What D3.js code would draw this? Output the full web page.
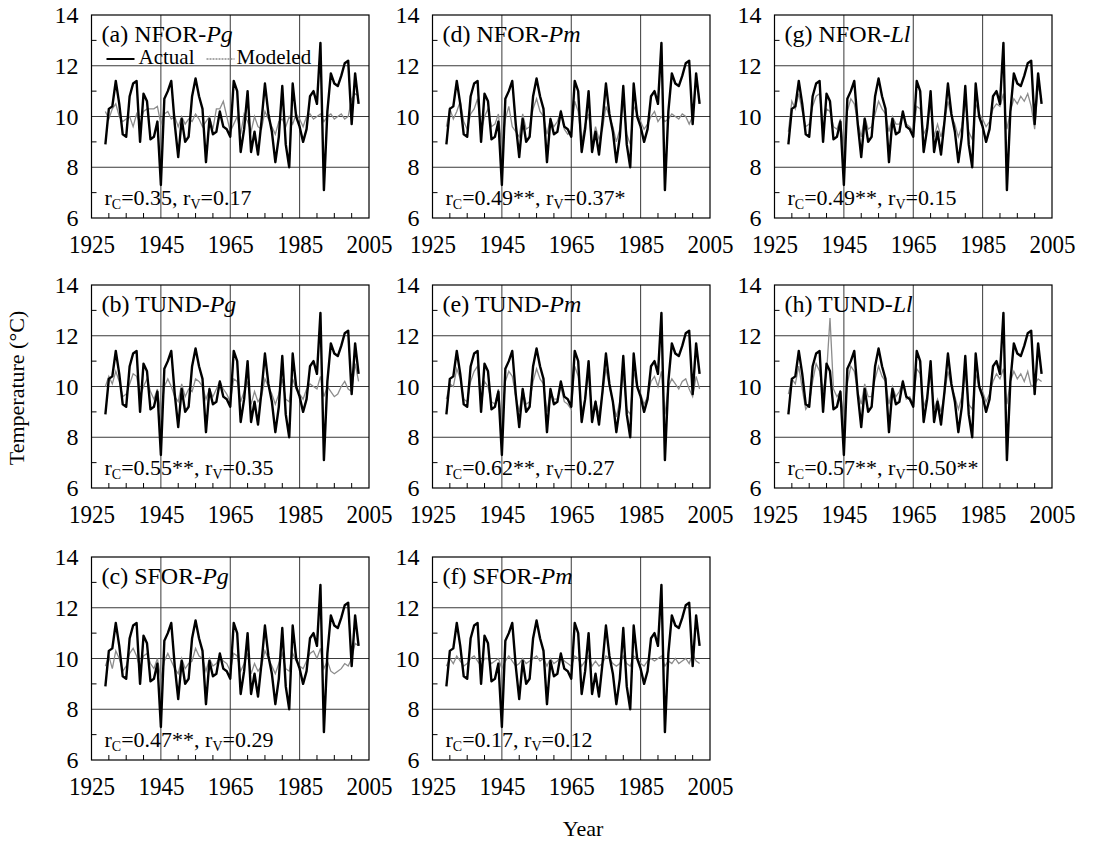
<!DOCTYPE html>
<html lang="en">
<head>
  <meta charset="UTF-8">
  <title>Actual vs modeled temperature</title>
  <script src="https://d3js.org/d3.v7.min.js"></script>
  <style>
    body { margin: 0; background: #fff; }
    svg text { font-family: "Liberation Serif", "Times New Roman", serif; fill: #000; }
  </style>
</head>
<body>
<svg id="chart" width="1095" height="851"></svg>
<script>
  const serif = '"Liberation Serif", "Times New Roman", serif';

  // Years covered by the series
  const years = d3.range(1929, 2003);

  // Observed temperature (same in every panel)
  const actual = [8.9, 10.3, 10.4, 11.4, 10.5, 9.3, 9.2, 10.8, 11.3, 11.4,
    9.0, 10.9, 10.6, 9.1, 9.2, 9.8, 7.3, 10.7, 11.0, 11.4,
    9.7, 8.4, 9.9, 9.0, 9.2, 10.8, 11.5, 10.8, 10.3, 8.2,
    9.9, 9.3, 9.4, 10.2, 9.6, 9.5, 9.2, 11.4, 11.0, 8.6,
    9.5, 11.0, 8.6, 9.4, 8.5, 9.8, 11.3, 10.1, 9.4, 8.2,
    9.2, 11.2, 8.9, 8.0, 11.3, 10.0, 9.6, 9.0, 9.5, 10.8,
    11.0, 10.5, 12.9, 7.1, 10.2, 11.7, 11.3, 11.2, 11.6, 12.1,
    12.2, 9.7, 11.7, 10.5];

  // Modeled temperature, one array per panel
  const modeledNforPg = [10.2, 9.9, 10.3, 10.5, 10.0, 9.8, 9.9, 10.0, 9.6, 10.1,
    9.7, 10.2, 10.3, 10.3, 10.3, 10.4, 9.7, 10.1, 10.2, 9.9,
    10.0, 9.6, 10.0, 9.7, 9.9, 9.8, 10.1, 9.9, 9.6, 9.8,
    10.0, 9.5, 10.3, 10.3, 10.6, 10.0, 9.4, 9.7, 10.0, 9.3,
    10.1, 9.8, 9.4, 10.0, 9.6, 9.5, 10.2, 9.9, 9.6, 9.3,
    9.8, 9.9, 9.6, 10.0, 9.7, 10.1, 9.9, 9.6, 10.0, 10.1,
    9.9, 10.0, 10.1, 9.8, 10.0, 10.1, 9.9, 10.0, 10.1, 9.9,
    10.0, 10.7, 10.9, 10.8];
  const modeledTundPg = [10.0, 10.4, 10.1, 10.6, 10.2, 9.6, 9.7, 10.1, 10.5, 10.4,
    9.6, 10.0, 10.3, 9.8, 9.5, 9.9, 8.9, 10.0, 10.3, 10.0,
    9.6, 9.4, 10.1, 9.6, 9.9, 9.8, 10.3, 10.2, 10.0, 9.5,
    9.9, 9.6, 9.9, 10.2, 9.9, 9.7, 9.4, 10.3, 10.2, 9.4,
    9.8, 10.2, 9.3, 9.8, 9.4, 9.6, 10.3, 10.0, 9.7, 9.3,
    9.7, 10.3, 9.5, 9.4, 10.3, 9.9, 9.7, 9.5, 9.9, 10.1,
    10.0, 9.9, 10.4, 9.6, 10.0, 9.8, 9.6, 9.7, 10.0, 10.2,
    9.9, 9.8, 10.9, 10.2];
  const modeledSforPg = [9.7, 10.1, 9.6, 10.3, 10.0, 9.5, 9.7, 10.2, 10.4, 10.1,
    9.6, 10.1, 10.2, 9.8, 9.6, 10.0, 9.2, 9.9, 10.2, 9.9,
    9.6, 9.4, 10.0, 9.6, 9.8, 9.9, 10.4, 10.1, 10.0, 9.5,
    10.0, 9.7, 9.8, 10.1, 9.9, 9.8, 9.5, 10.2, 10.1, 9.5,
    9.8, 10.2, 9.4, 9.8, 9.5, 9.7, 10.3, 10.0, 9.7, 9.4,
    9.8, 10.2, 9.6, 9.5, 10.2, 9.9, 9.7, 9.6, 9.9, 10.2,
    10.3, 10.0, 10.4, 9.6, 9.9, 9.5, 9.4, 9.5, 9.6, 9.8,
    9.7, 10.0, 10.6, 10.5];
  const modeledNforPm = [9.6, 10.3, 9.9, 10.2, 10.6, 9.8, 9.5, 10.1, 10.3, 10.7,
    9.4, 10.0, 10.3, 9.6, 9.7, 10.1, 8.7, 9.9, 10.4, 9.6,
    9.4, 9.2, 10.1, 9.5, 9.6, 10.3, 10.7, 10.2, 10.0, 9.3,
    9.9, 9.6, 9.8, 10.2, 9.5, 9.3, 9.4, 10.6, 10.2, 9.0,
    9.7, 10.1, 8.9, 9.6, 9.1, 9.5, 10.4, 10.0, 9.6, 9.0,
    9.5, 10.6, 9.3, 8.9, 10.4, 10.1, 9.8, 9.5, 9.7, 10.0,
    10.2, 9.8, 10.0, 9.8, 9.9, 10.1, 10.0, 9.9, 10.1, 10.0,
    9.7, 10.0, 11.6, 10.6];
  const modeledTundPm = [9.5, 10.1, 10.0, 10.7, 10.3, 9.5, 9.4, 10.2, 10.6, 10.8,
    9.2, 10.2, 10.0, 9.4, 9.3, 9.9, 8.4, 10.2, 10.6, 10.4,
    9.6, 9.0, 9.9, 9.3, 9.4, 10.2, 10.7, 10.3, 10.1, 9.0,
    9.8, 9.5, 9.5, 10.0, 9.4, 9.3, 9.1, 10.8, 10.4, 9.0,
    9.5, 10.5, 8.9, 9.4, 8.9, 9.7, 10.7, 10.0, 9.4, 8.8,
    9.4, 10.5, 9.1, 8.9, 10.6, 10.0, 9.7, 9.3, 9.6, 10.2,
    10.4, 10.0, 10.6, 8.9, 10.0, 10.3, 10.1, 9.9, 10.2, 10.3,
    9.9, 9.6, 10.4, 9.9];
  const modeledSforPm = [9.7, 10.0, 9.8, 10.1, 9.9, 9.7, 9.8, 10.0, 10.1, 9.9,
    9.7, 10.0, 10.0, 9.8, 9.9, 10.0, 9.6, 9.9, 10.1, 9.9,
    9.7, 9.8, 10.0, 9.8, 9.9, 10.0, 10.1, 9.9, 10.0, 9.7,
    10.0, 9.8, 9.9, 10.1, 9.9, 9.8, 9.7, 10.1, 10.0, 9.7,
    9.9, 10.1, 9.7, 9.9, 9.7, 9.8, 10.1, 10.0, 9.8, 9.7,
    9.8, 10.1, 9.8, 9.7, 10.1, 10.0, 9.8, 9.7, 9.9, 10.0,
    9.9, 10.0, 10.1, 9.7, 9.9, 9.8, 10.0, 9.8, 9.9, 10.0,
    9.8, 10.2, 9.9, 9.8];
  const modeledNforLl = [9.4, 10.6, 10.3, 10.9, 10.2, 9.6, 9.7, 10.4, 10.8, 10.9,
    9.5, 10.3, 10.2, 9.6, 9.5, 9.9, 8.6, 10.2, 10.7, 10.5,
    9.8, 9.2, 10.0, 9.5, 9.6, 10.1, 10.6, 10.3, 10.1, 9.4,
    10.0, 9.7, 9.7, 10.1, 9.7, 9.6, 9.4, 10.4, 10.3, 9.3,
    9.6, 10.5, 9.2, 9.7, 9.2, 9.8, 10.6, 10.0, 9.7, 9.2,
    9.6, 10.6, 9.4, 9.1, 10.5, 10.1, 9.9, 9.6, 9.8, 10.3,
    10.5, 10.4, 10.9, 9.5, 10.2, 10.7, 10.5, 10.8, 10.6, 10.9,
    10.4, 9.5, 11.2, 10.7];
  const modeledTundLl = [9.7, 10.3, 10.1, 10.8, 9.9, 9.1, 9.3, 10.2, 10.9, 10.6,
    9.8, 10.5, 12.7, 9.9, 9.6, 9.8, 8.7, 10.1, 10.8, 10.6,
    9.8, 9.3, 10.1, 9.6, 9.6, 10.3, 10.8, 10.4, 10.2, 9.3,
    10.0, 9.6, 9.8, 10.2, 9.5, 9.6, 9.3, 10.7, 10.5, 9.2,
    9.6, 10.5, 9.1, 9.5, 9.0, 9.7, 10.6, 10.0, 9.6, 9.1,
    9.6, 10.5, 9.3, 9.1, 10.5, 10.0, 9.8, 9.4, 9.7, 10.2,
    10.5, 10.3, 10.7, 9.3, 10.2, 10.6, 10.3, 10.5, 10.2, 10.6,
    10.0, 10.1, 10.3, 10.2];

  // Panel labels and correlation statistics
  const panelLetters = ["a", "b", "c", "d", "e", "f", "g", "h"];
  const panelSites = ["NFOR", "TUND", "SFOR", "NFOR", "TUND", "SFOR", "NFOR", "TUND"];
  const panelSpecies = ["Pg", "Pg", "Pg", "Pm", "Pm", "Pm", "Ll", "Ll"];
  const rcLabels = ["0.35", "0.55**", "0.47**", "0.49**", "0.62**", "0.17", "0.49**", "0.57**"];
  const rvLabels = ["0.17", "0.35", "0.29", "0.37*", "0.27", "0.12", "0.15", "0.50**"];
  const modeledSeries = [modeledNforPg, modeledTundPg, modeledSforPg, modeledNforPm,
    modeledTundPm, modeledSforPm, modeledNforLl, modeledTundLl];

  const xTicks = [1925, 1945, 1965, 1985, 2005];
  const yTicks = [6, 8, 10, 12, 14];

  // Layout
  const colLeft = [91.5, 432.5, 774.5];
  const rowTop = [15, 285, 557];
  const pw = 277.5, ph = 203;

  const svg = d3.select("#chart");

  const x = d3.scaleLinear().domain([1925, 2005]).range([0, pw]);
  const y = d3.scaleLinear().domain([6, 14]).range([ph, 0]);

  const line = d3.line()
    .x(d => x(d[0]))
    .y(d => y(d[1]));

  panelLetters.forEach((letter, i) => {
    const col = Math.floor(i / 3);
    const row = i % 3;
    const g = svg.append("g")
      .attr("transform", `translate(${colLeft[col]},${rowTop[row]})`);

    // grid lines
    g.selectAll(".vgrid")
      .data([1945, 1965, 1985])
      .join("line")
      .attr("x1", d => x(d)).attr("x2", d => x(d))
      .attr("y1", 0).attr("y2", ph)
      .attr("stroke", "#3a3a3a").attr("stroke-width", 1);
    g.selectAll(".hgrid")
      .data([8, 10, 12])
      .join("line")
      .attr("x1", 0).attr("x2", pw)
      .attr("y1", d => y(d)).attr("y2", d => y(d))
      .attr("stroke", "#3a3a3a").attr("stroke-width", 1);

    // minor ticks, pointing inward
    g.selectAll(".xminor")
      .data(d3.range(1930, 2005, 5).filter(v => v % 20 !== 5))
      .join("line")
      .attr("x1", d => x(d)).attr("x2", d => x(d))
      .attr("y1", ph).attr("y2", ph - 5)
      .attr("stroke", "#000").attr("stroke-width", 1);
    g.selectAll(".yminor")
      .data([7, 9, 11, 13])
      .join("line")
      .attr("x1", 0).attr("x2", 5)
      .attr("y1", d => y(d)).attr("y2", d => y(d))
      .attr("stroke", "#000").attr("stroke-width", 1);

    // series
    const modeled = modeledSeries[i];
    g.append("path")
      .datum(years.map((yr, k) => [yr, modeled[k]]))
      .attr("d", line)
      .attr("fill", "none")
      .attr("stroke", "#8c8c8c")
      .attr("stroke-width", 1.3);
    g.append("path")
      .datum(years.map((yr, k) => [yr, actual[k]]))
      .attr("d", line)
      .attr("fill", "none")
      .attr("stroke", "#000")
      .attr("stroke-width", 2.4)
      .attr("stroke-linejoin", "round");

    // frame
    g.append("rect")
      .attr("width", pw).attr("height", ph)
      .attr("fill", "none").attr("stroke", "#000").attr("stroke-width", 1.2);

    // axes
    const xAxis = g.append("g")
      .attr("transform", `translate(0,${ph})`)
      .call(d3.axisBottom(x).tickValues(xTicks).tickFormat(d3.format("d")).tickSize(0).tickPadding(17));
    xAxis.attr("font-family", null).attr("font-size", null);
    xAxis.select(".domain").remove();
    xAxis.selectAll("text")
      .style("font-family", serif)
      .style("font-size", "25px")
      .attr("textLength", 46)
      .attr("lengthAdjust", "spacingAndGlyphs");

    const yAxis = g.append("g")
      .call(d3.axisLeft(y).tickValues(yTicks).tickSize(0).tickPadding(13));
    yAxis.attr("font-family", null).attr("font-size", null);
    yAxis.select(".domain").remove();
    yAxis.selectAll("text")
      .style("font-family", serif)
      .style("font-size", "24px");

    // panel title
    const title = g.append("text")
      .attr("x", 10).attr("y", 27)
      .style("font-family", serif)
      .style("font-size", "24px");
    title.append("tspan").text(`(${letter}) ${panelSites[i]}-`);
    title.append("tspan").attr("font-style", "italic").text(panelSpecies[i]);

    // correlation note
    const note = g.append("text")
      .attr("x", 13).attr("y", ph - 13)
      .style("font-family", serif)
      .style("font-size", "22px");
    note.append("tspan").text("r");
    note.append("tspan").attr("dy", 4).style("font-size", "14px").text("C");
    note.append("tspan").attr("dy", -4).text(`=${rcLabels[i]}, r`);
    note.append("tspan").attr("dy", 4).style("font-size", "14px").text("V");
    note.append("tspan").attr("dy", -4).text(`=${rvLabels[i]}`);

    // legend only in the first panel
    if (i === 0) {
      g.append("line")
        .attr("x1", 15).attr("x2", 43).attr("y1", 44).attr("y2", 44)
        .attr("stroke", "#000").attr("stroke-width", 2);
      g.append("text").attr("x", 47).attr("y", 49)
        .style("font-family", serif)
        .style("font-size", "21px").text("Actual");
      g.append("line")
        .attr("x1", 115).attr("x2", 143).attr("y1", 44).attr("y2", 44)
        .attr("stroke", "#8c8c8c").attr("stroke-width", 1.3)
        .attr("stroke-dasharray", "2,1");
      g.append("text").attr("x", 145).attr("y", 49)
        .style("font-family", serif)
        .style("font-size", "21px").text("Modeled");
    }
  });

  // axis titles
  svg.append("text")
    .attr("transform", "translate(24,388) rotate(-90)")
    .attr("text-anchor", "middle")
    .style("font-family", serif)
    .style("font-size", "22px")
    .text("Temperature (\u00B0C)");
  svg.append("text")
    .attr("x", 583).attr("y", 836)
    .attr("text-anchor", "middle")
    .style("font-family", serif)
    .style("font-size", "22px")
    .text("Year");
</script>
</body>
</html>
